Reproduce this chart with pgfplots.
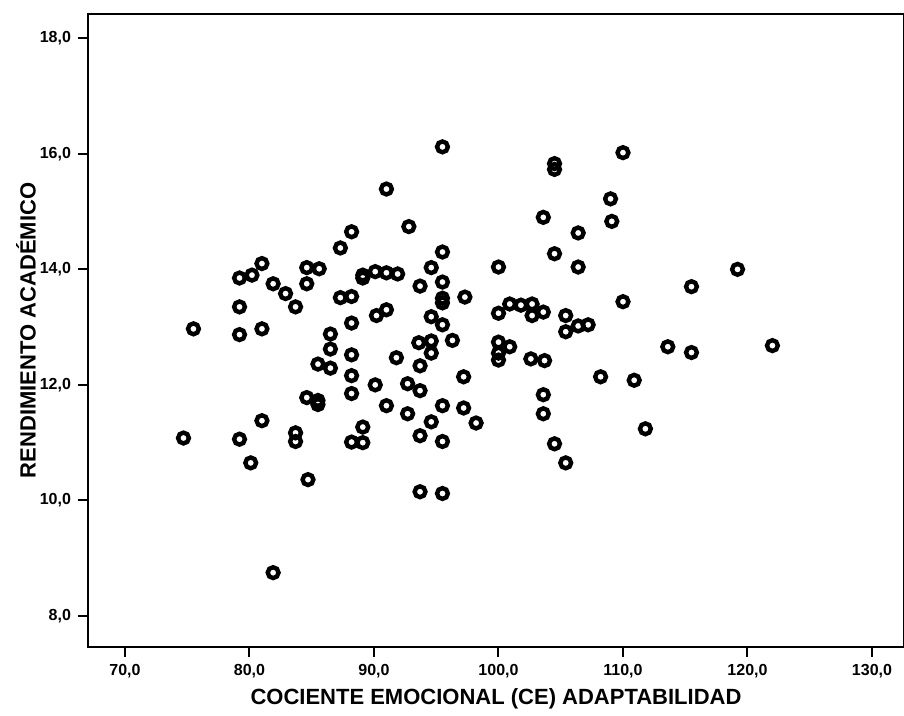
\documentclass[border=0pt]{standalone}
\usepackage{fontspec}
\setmainfont{Liberation Sans}
\usepackage{pgfplots}
\pgfplotsset{compat=1.18}
\begin{document}
\begin{tikzpicture}
\begin{axis}[
  at={(0pt,0pt)}, anchor=south west,
  scale only axis, width=408pt, height=316.5pt,
  xmin=67.03, xmax=132.57, ymin=7.463, ymax=18.42,
  xtick={70,80,...,130}, ytick={8,10,...,18},
  xtick pos=lower, ytick pos=left,
  tick align=outside, major tick length=5pt,
  axis line style={line width=1pt},
  every tick/.style={black, line width=1pt},
  tick label style={font=\bfseries\fontsize{8}{9.5}\selectfont},
  /pgf/number format/fixed, /pgf/number format/fixed zerofill,
  /pgf/number format/precision=1, /pgf/number format/use comma,
  /pgf/number format/assume math mode=true,
  xlabel={COCIENTE EMOCIONAL (CE) ADAPTABILIDAD},
  ylabel={RENDIMIENTO ACADÉMICO},
  label style={font=\bfseries\fontsize{11}{13}\selectfont},
  xlabel style={at={(axis description cs:0.5,-0.0916)}, anchor=base},
  ylabel style={at={(axis description cs:-0.076,0.5)}, anchor=center},
  clip=false,
]
\addplot[only marks, mark=o, mark size=2.7pt, mark options={line width=2.2pt, black}] coordinates {
(74.7,11.08) (75.5,12.97) (79.2,13.85) (80.2,13.90) (79.2,13.35) (79.2,12.87)
(79.2,11.06) (80.1,10.65) (81.0,14.10) (81.0,12.97) (81.0,11.38) (81.9,13.75)
(81.9,8.75) (82.9,13.58) (83.7,13.35) (83.7,11.17) (83.7,11.02) (84.6,14.03)
(84.6,13.75) (84.6,11.78) (84.7,10.36) (85.6,14.01) (85.5,12.36) (85.5,11.73)
(85.5,11.66) (86.5,12.88) (86.5,12.62) (86.5,12.29) (87.3,14.37) (87.3,13.51)
(88.2,14.65) (88.2,13.53) (88.2,13.07) (88.2,12.52) (88.2,12.16) (88.2,11.85)
(88.2,11.01) (89.1,13.90) (89.1,13.85) (89.1,11.27) (89.1,11.00) (90.1,13.96)
(90.2,13.20) (90.1,12.00) (91.0,15.39) (91.0,13.94) (91.0,13.30) (91.0,11.64)
(91.9,13.92) (91.8,12.47) (92.8,14.74) (92.7,12.02) (92.7,11.50) (93.7,13.71)
(93.6,12.73) (93.7,12.33) (93.7,11.90) (93.7,11.12) (93.7,10.15) (94.6,14.03)
(94.6,13.18) (94.6,12.76) (94.6,12.55) (94.6,11.36) (95.5,16.12) (95.5,14.30)
(95.5,13.78) (95.5,13.50) (95.5,13.42) (95.5,13.04) (95.5,11.64) (95.5,11.02)
(95.5,10.12) (96.3,12.77) (97.3,13.52) (97.2,12.14) (97.2,11.60) (98.2,11.34)
(100.0,14.04) (100.0,13.24) (100.0,12.74) (100.0,12.55) (100.0,12.43)
(100.9,13.40) (100.9,12.66) (101.8,13.38) (102.7,13.40) (102.7,13.20)
(102.6,12.45) (103.6,14.90) (103.6,13.26) (103.7,12.42) (103.6,11.83)
(103.6,11.50) (104.5,15.83) (104.5,15.73) (104.5,14.27) (104.5,10.98)
(105.4,13.20) (105.4,12.92) (105.4,10.65) (106.4,14.63) (106.4,14.04)
(106.4,13.02) (107.2,13.04) (108.2,12.14) (109.0,15.22) (109.1,14.83)
(110.0,16.02) (110.0,13.44) (110.9,12.08) (111.8,11.24) (113.6,12.66)
(115.5,13.70) (115.5,12.56) (119.2,14.00) (122.0,12.68)
};
\end{axis}
\pgfresetboundingbox
\path[use as bounding box] (-44pt,-34.5pt) rectangle (408pt,323.5pt);
\end{tikzpicture}
\end{document}
